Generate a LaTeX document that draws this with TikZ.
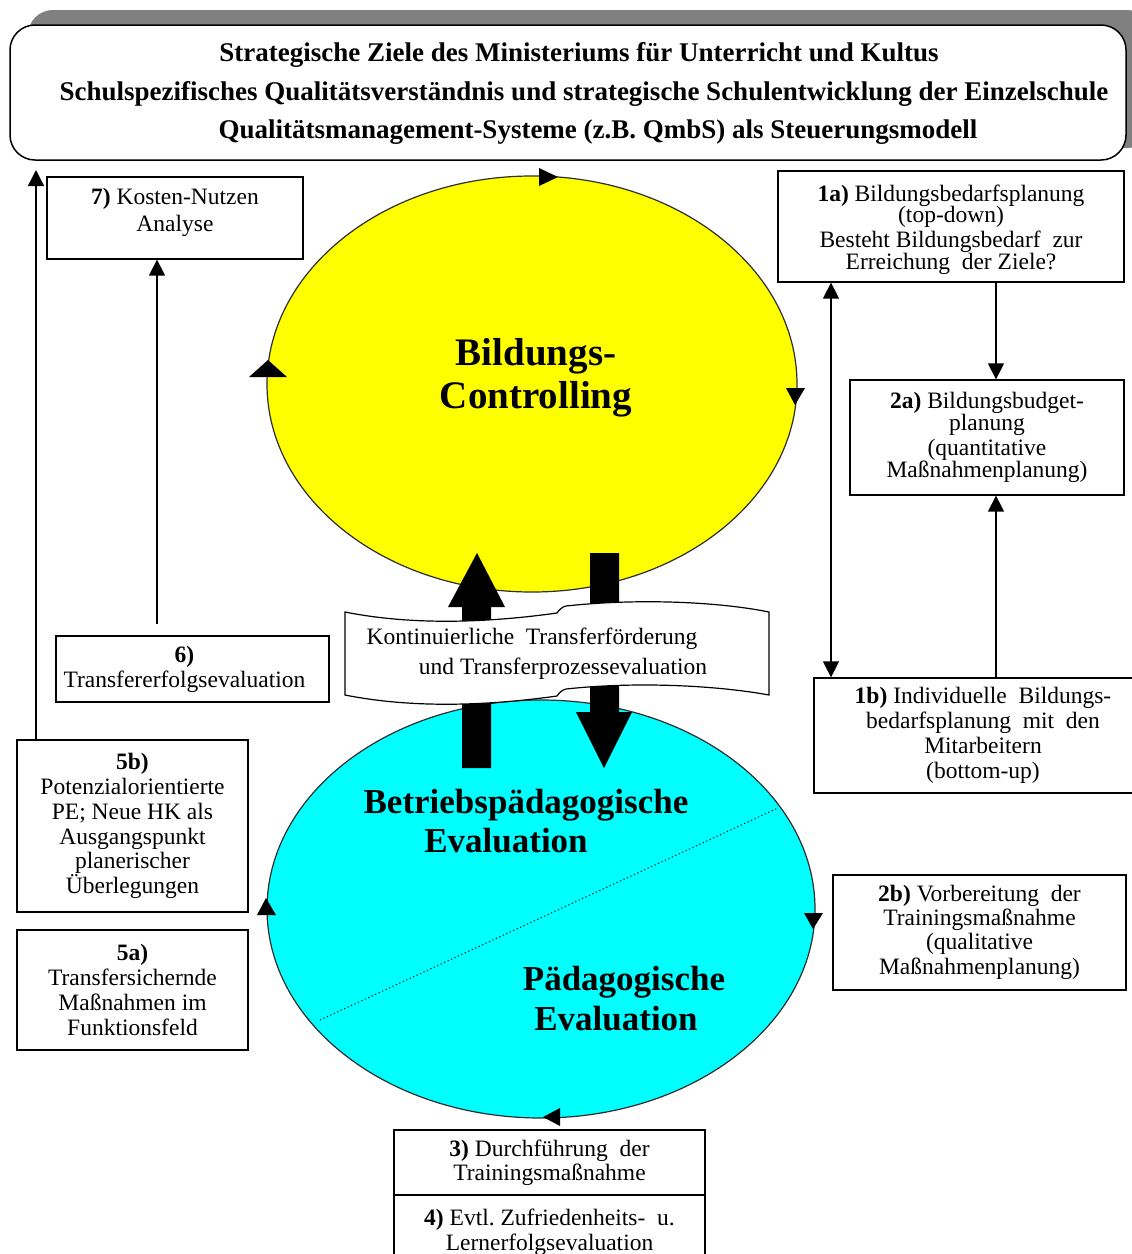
\documentclass[tikz,border=0pt]{standalone}
\usepackage{fontspec}
\setmainfont{Liberation Serif}
\usetikzlibrary{shapes.geometric,arrows.meta}

\definecolor{shadowgray}{RGB}{128,128,128}
\definecolor{ctrlyellow}{RGB}{255,255,0}
\definecolor{evalcyan}{RGB}{0,255,255}
\definecolor{rimgray}{RGB}{45,45,45}

\begin{document}
\begin{tikzpicture}[x=1pt,y=-1pt,
  stagebox/.style={draw=black,line width=1.3pt,fill=white,rectangle,inner sep=0pt,
    align=center,font=\fontsize{23.5}{24.8}\selectfont},
  boxtext/.style={inner sep=0pt,align=center,font=\fontsize{23.5}{24.8}\selectfont},
  titleline/.style={font=\fontsize{27}{30}\selectfont\bfseries,inner sep=0pt},
  ringtext/.style={font=\fontsize{35}{37}\selectfont\bfseries,inner sep=0pt},
  scrolltext/.style={font=\fontsize{23.5}{25}\selectfont,inner sep=0pt},
  link/.style={line width=1.5pt,-{Triangle[length=16pt,width=16pt]}},
  duallink/.style={line width=1.5pt,{Triangle[length=16pt,width=16pt]}-{Triangle[length=16pt,width=16pt]}},
  cyclehead/.style={fill=black},
  bigarrow/.style={fill=black},
  ring/.style={ellipse,draw=rimgray,line width=1.2pt,inner sep=0pt}
]
\useasboundingbox (0,0) rectangle (1132,1254);
\fill[white] (0,0) rectangle (1132,1254);

% header banner with its drop shadow
\fill[shadowgray,rounded corners=25pt] (28,10) rectangle (1152,148);
\node[draw=black,line width=1.5pt,fill=white,rounded corners=25pt,
      minimum width=1116pt,minimum height=135pt,inner sep=0pt] (ziele) at (568,92.5) {};
\node[titleline] (t1) at (579,55) {Strategische Ziele des Ministeriums für Unterricht und Kultus};
\node[titleline] (t2) at (584,94) {Schulspezifisches Qualitätsverständnis und strategische Schulentwicklung der Einzelschule};
\node[titleline] (t3) at (598,132) {Qualitätsmanagement-Systeme (z.B. QmbS) als Steuerungsmodell};

% the two cycles
\node[ring,fill=ctrlyellow,minimum width=530pt,minimum height=416pt] (ctrl) at (532,384) {};
\node[ring,fill=evalcyan,minimum width=548pt,minimum height=418pt] (eval) at (541,909) {};
\draw[line width=1pt,dash pattern=on 1.2pt off 2.6pt] (320,1020) -- (778,808);

% direction marks on the cycles (clockwise)
\fill[cyclehead] (539,168) -- (558,177) -- (539,186) -- cycle;
\fill[cyclehead] (786,388) -- (805,388) -- (795,405) -- cycle;
\fill[cyclehead] (249,377) -- (287,377) -- (268,360) -- cycle;
\fill[cyclehead] (257,915) -- (276,915) -- (266,898) -- cycle;
\fill[cyclehead] (804,913) -- (823,913) -- (813,929) -- cycle;
\fill[cyclehead] (560,1108) -- (560,1126) -- (543,1117) -- cycle;

\node[font=\fontsize{39}{43}\selectfont\bfseries,align=center,inner sep=0pt] (ctrltxt) at (536,378) {Bildungs-\\Controlling};
\node[ringtext] (be1) at (526,805) {Betriebspädagogische};
\node[ringtext] (be2) at (506,841) {Evaluation};
\node[ringtext] (pe1) at (624,982) {Pädagogische};
\node[ringtext] (pe2) at (616,1019) {Evaluation};

% transfer arrows between the cycles
\fill[bigarrow] (462,768) -- (462,607) -- (448,607) -- (477,553) -- (505,607) -- (491,607) -- (491,768) -- cycle;
\fill[bigarrow] (590,553) -- (619,553) -- (619,712) -- (632,712) -- (604,768) -- (576,712) -- (590,712) -- cycle;

% wavy scroll across the arrows
\draw[fill=white,line width=1.2pt]
  (345,612) .. controls (420,627) and (500,621) .. (557,613)
  .. controls (560,609) and (562,607) .. (566,606)
  .. controls (640,598) and (720,602) .. (769,612)
  -- (769,695)
  .. controls (720,686) and (640,681) .. (566,689)
  .. controls (562,690) and (560,692) .. (557,696)
  .. controls (500,704) and (420,710) .. (345,695) -- cycle;
\node[scrolltext] (s1) at (532,639) {Kontinuierliche\ \ Transferförderung};
\node[scrolltext] (s2) at (563,669) {und Transferprozessevaluation};

% process steps
\node[stagebox,minimum width=256pt,minimum height=82pt] (b7) at (175,218) {};
\node[boxtext] (b7t) at ([yshift=6pt]b7.center) {\textbf{7)} Kosten-Nutzen\\[2pt]Analyse};
\node[stagebox,minimum width=346pt,minimum height=111pt] (b1a) at (951,226.5) {};
\node[boxtext] (b1at) at ([yshift=-3pt]b1a.center)
  {\textbf{1a)} Bildungsbedarfsplanung\\[-3pt](top-down)\\Besteht Bildungsbedarf\ \ zur\\[-3pt]Erreichung\ \ der Ziele?};
\node[stagebox,minimum width=274pt,minimum height=115pt] (b2a) at (987,437.5)
  {\textbf{2a)} Bildungsbudget-\\[-3pt]planung\\(quantitative\\[-3pt]Maßnahmenplanung)};
\node[stagebox,minimum width=338pt,minimum height=115pt] (b1b) at (983,735.5)
  {\textbf{1b)} Individuelle\ \ Bildungs-\\bedarfsplanung\ \ mit\ \ den\\Mitarbeitern\\(bottom-up)};
\node[stagebox,minimum width=293pt,minimum height=115pt] (b2b) at (979.5,932.5)
  {\textbf{2b)} Vorbereitung\ \ der\\[-1pt]Trainingsmaßnahme\\[-1pt](qualitative\\Maßnahmenplanung)};
\node[stagebox,minimum width=273pt,minimum height=66pt] (b6) at (192.5,669)
  {\textbf{6)}\hspace*{16pt}\\Transfererfolgsevaluation\hspace*{16pt}};
\node[stagebox,minimum width=231pt,minimum height=172pt] (b5b) at (132.5,826)
  {\textbf{5b)}\\Potenzialorientierte\\PE; Neue HK als\\Ausgangspunkt\\planerischer\\Überlegungen};
\node[stagebox,minimum width=231pt,minimum height=120pt] (b5a) at (132.5,990)
  {\textbf{5a)}\\Transfersichernde\\Maßnahmen im\\Funktionsfeld};
\node[stagebox,minimum width=311pt,minimum height=65pt] (b3) at (549.5,1162.5)
  {\textbf{3)} Durchführung\ \ der\\[-1pt]Trainingsmaßnahme};
\node[stagebox,minimum width=311pt,minimum height=75pt] (b4) at (549.5,1232.5)
  {\textbf{4)} Evtl.\ Zufriedenheits-\ \ u.\\Lernerfolgsevaluation};

% connectors
\coordinate (topL) at (36,170);
\draw[link] (topL |- b5b.north) -- (topL);
\coordinate (b6up) at (157,624);
\draw[link] (b6up) -- (b6up |- b7.south);
\coordinate (rx) at (996,0);
\draw[link] (rx |- b1a.south) -- (rx |- b2a.north);
\draw[link] (rx |- b1b.north) -- (rx |- b2a.south);
\coordinate (dx) at (831,0);
\draw[duallink] (dx |- b1a.south) -- (dx |- b1b.north);
\end{tikzpicture}
\end{document}
